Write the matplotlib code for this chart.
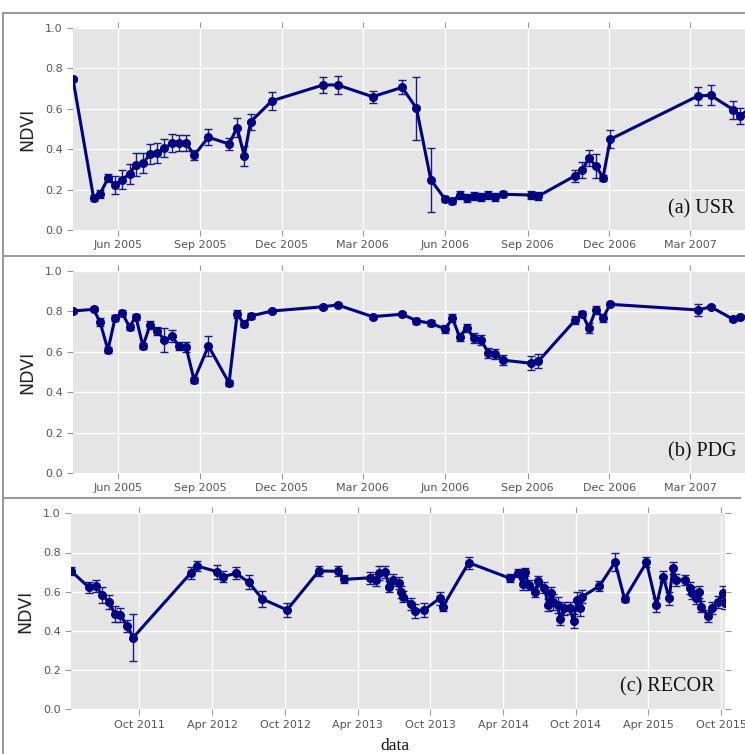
import datetime as dt
import matplotlib
matplotlib.use('Agg')
import matplotlib.pyplot as plt
import matplotlib.dates as mdates
from matplotlib.lines import Line2D

# ---- series (a) USR and (b) PDG share the same acquisition dates ----
dates_ab = ['2005-04-12', '2005-05-05', '2005-05-12', '2005-05-21', '2005-05-29', '2005-06-06',
            '2005-06-14', '2005-06-21', '2005-06-29', '2005-07-07', '2005-07-15', '2005-07-23',
            '2005-07-31', '2005-08-08', '2005-08-16', '2005-08-25', '2005-09-10', '2005-10-03',
            '2005-10-12', '2005-10-20', '2005-10-27', '2005-11-20', '2006-01-16', '2006-02-01',
            '2006-03-12', '2006-04-14', '2006-04-30', '2006-05-16', '2006-06-01', '2006-06-09',
            '2006-06-17', '2006-06-25', '2006-07-03', '2006-07-11', '2006-07-19', '2006-07-27',
            '2006-08-04', '2006-09-05', '2006-09-13', '2006-10-24', '2006-11-01', '2006-11-08',
            '2006-11-16', '2006-11-24', '2006-12-02', '2007-03-10', '2007-03-24', '2007-04-18',
            '2007-04-26', '2007-05-06']

ndvi_usr = [0.746, 0.158, 0.177, 0.256, 0.224, 0.250, 0.278, 0.324, 0.330, 0.376, 0.383, 0.404,
            0.429, 0.432, 0.432, 0.370, 0.459, 0.426, 0.507, 0.366, 0.536, 0.640, 0.718, 0.718,
            0.660, 0.706, 0.602, 0.248, 0.152, 0.144, 0.173, 0.157, 0.168, 0.165, 0.173, 0.165,
            0.177, 0.173, 0.168, 0.269, 0.297, 0.355, 0.318, 0.259, 0.449, 0.664, 0.667, 0.596,
            0.566, 0.600]
err_usr = [0.01, 0.015, 0.02, 0.02, 0.045, 0.045, 0.05, 0.055, 0.05, 0.05, 0.05, 0.045,
           0.045, 0.04, 0.04, 0.025, 0.04, 0.03, 0.045, 0.05, 0.04, 0.045, 0.04, 0.045,
           0.03, 0.035, 0.155, 0.16, 0.015, 0.015, 0.02, 0.02, 0.02, 0.02, 0.02, 0.02,
           0.015, 0.02, 0.02, 0.03, 0.04, 0.04, 0.06, 0.015, 0.045, 0.045, 0.05, 0.045,
           0.04, 0.04]

ndvi_pdg = [0.802, 0.810, 0.749, 0.609, 0.769, 0.790, 0.724, 0.774, 0.629, 0.733, 0.703, 0.658,
            0.678, 0.630, 0.625, 0.460, 0.629, 0.446, 0.786, 0.736, 0.777, 0.802, 0.823, 0.832,
            0.774, 0.786, 0.754, 0.741, 0.713, 0.766, 0.675, 0.719, 0.667, 0.658, 0.596, 0.589,
            0.559, 0.543, 0.554, 0.757, 0.786, 0.719, 0.807, 0.769, 0.835, 0.807, 0.823, 0.761,
            0.774, 0.775]
err_pdg = [0.01, 0.01, 0.02, 0.015, 0.015, 0.015, 0.015, 0.015, 0.015, 0.02, 0.02, 0.06,
           0.03, 0.02, 0.025, 0.015, 0.05, 0.015, 0.02, 0.015, 0.015, 0.01, 0.01, 0.01,
           0.01, 0.01, 0.015, 0.015, 0.02, 0.02, 0.02, 0.02, 0.025, 0.025, 0.025, 0.025,
           0.025, 0.035, 0.035, 0.02, 0.015, 0.025, 0.02, 0.02, 0.01, 0.03, 0.01, 0.01,
           0.01, 0.01]

# ---- series (c) RECOR ----
dates_c = ['2011-04-13', '2011-05-28', '2011-06-14', '2011-06-30', '2011-07-17', '2011-08-01',
           '2011-08-15', '2011-09-01', '2011-09-16', '2012-02-07', '2012-02-24', '2012-04-14',
           '2012-04-29', '2012-05-31', '2012-07-02', '2012-08-05', '2012-10-06', '2012-12-25',
           '2013-02-12', '2013-02-27', '2013-05-03', '2013-05-17', '2013-05-26', '2013-06-09',
           '2013-06-20', '2013-06-28', '2013-07-13', '2013-07-20', '2013-07-24', '2013-08-14',
           '2013-08-24', '2013-09-15', '2013-10-24', '2013-11-01', '2014-01-05', '2014-04-19',
           '2014-05-09', '2014-05-20', '2014-05-26', '2014-06-04', '2014-06-21', '2014-06-29',
           '2014-07-14', '2014-07-23', '2014-07-31', '2014-08-05', '2014-08-16', '2014-08-23',
           '2014-09-02', '2014-09-15', '2014-09-25', '2014-10-04', '2014-10-10', '2014-10-17',
           '2014-11-29', '2015-01-07', '2015-01-31', '2015-03-27', '2015-04-21', '2015-05-08',
           '2015-05-23', '2015-06-01', '2015-06-09', '2015-07-01', '2015-07-14', '2015-07-20',
           '2015-07-28', '2015-08-06', '2015-08-12', '2015-08-28', '2015-09-07', '2015-09-23',
           '2015-10-05', '2015-10-10']
ndvi_recor = [0.706, 0.622, 0.631, 0.583, 0.549, 0.486, 0.481, 0.425, 0.366, 0.694, 0.731, 0.702,
              0.677, 0.694, 0.648, 0.563, 0.507, 0.706, 0.704, 0.663, 0.671, 0.660, 0.694, 0.702,
              0.626, 0.660, 0.643, 0.600, 0.575, 0.536, 0.502, 0.507, 0.566, 0.524, 0.748, 0.668,
              0.694, 0.638, 0.702, 0.634, 0.600, 0.655, 0.621, 0.532, 0.595, 0.549, 0.532, 0.461,
              0.515, 0.515, 0.450, 0.558, 0.515, 0.575, 0.629, 0.750, 0.563, 0.750, 0.532, 0.677,
              0.566, 0.719, 0.660, 0.660, 0.617, 0.592, 0.569, 0.600, 0.524, 0.476, 0.518, 0.549,
              0.592, 0.540]
err_recor = [0.02, 0.03, 0.03, 0.04, 0.035, 0.04, 0.035, 0.03, 0.12, 0.03, 0.025, 0.035,
             0.03, 0.03, 0.035, 0.04, 0.035, 0.025, 0.025, 0.02, 0.03, 0.03, 0.035, 0.03,
             0.03, 0.03, 0.03, 0.03, 0.03, 0.03, 0.035, 0.035, 0.035, 0.025, 0.03, 0.02,
             0.02, 0.03, 0.02, 0.025, 0.025, 0.025, 0.03, 0.03, 0.03, 0.04, 0.04, 0.03,
             0.035, 0.03, 0.035, 0.04, 0.04, 0.035, 0.025, 0.045, 0.015, 0.025, 0.035, 0.03,
             0.035, 0.03, 0.03, 0.025, 0.03, 0.03, 0.03, 0.03, 0.03, 0.03, 0.03, 0.03,
             0.035, 0.03]

labels = ['(a) USR', '(b) PDG', '(c) RECOR']

W, H = 745, 754


def to_dt(lst):
    return [dt.datetime.strptime(s, '%Y-%m-%d') for s in lst]


def px_rect(x0, y0, x1, y1):
    # pixel box (top-left origin) -> figure fraction [left, bottom, width, height]
    return [x0 / W, 1 - y1 / H, (x1 - x0) / W, (y1 - y0) / H]


def style_axes(ax):
    ax.set_facecolor('#E5E5E5')
    for sp in ax.spines.values():
        sp.set_visible(False)
    ax.grid(True, color='white', linewidth=0.9)
    ax.set_axisbelow(True)
    ax.set_ylim(0, 1.0)
    ax.set_yticks([0.0, 0.2, 0.4, 0.6, 0.8, 1.0])
    ax.yaxis.set_major_formatter(plt.FormatStrFormatter('%.1f'))
    ax.tick_params(direction='out', length=4, width=0.8, color='#999999',
                   labelcolor='#555555', labelsize=8, top=True, right=True)
    ax.set_ylabel('NDVI', fontsize=12.5, color='#222222', labelpad=6)


def draw(ax, dates, vals, errs):
    ax.errorbar(to_dt(dates), vals, yerr=errs, fmt='-o', color='navy', ecolor='#1a1a80',
                lw=2.2, ms=5.5, elinewidth=1, capsize=3, capthick=1, clip_on=True)


fig = plt.figure(figsize=(W / 100, H / 100), dpi=100)

ax_a = fig.add_axes(px_rect(73, 28, 760, 230))
ax_b = fig.add_axes(px_rect(73, 271, 760, 473))
ax_c = fig.add_axes(px_rect(71, 513.3, 725, 709.3))

xlim_ab = (dt.datetime(2005, 4, 12), dt.datetime(2007, 5, 18))
for ax, vals, errs in [(ax_a, ndvi_usr, err_usr), (ax_b, ndvi_pdg, err_pdg)]:
    style_axes(ax)
    draw(ax, dates_ab, vals, errs)
    ax.set_xlim(*xlim_ab)
    ax.xaxis.set_major_locator(mdates.MonthLocator(bymonth=(3, 6, 9, 12)))
    ax.xaxis.set_major_formatter(mdates.DateFormatter('%b %Y'))

style_axes(ax_c)
draw(ax_c, dates_c, ndvi_recor, err_recor)
ax_c.set_xlim(to_dt(dates_c)[0], to_dt(dates_c)[-1])
ax_c.xaxis.set_major_locator(mdates.MonthLocator(bymonth=(4, 10)))
ax_c.xaxis.set_major_formatter(mdates.DateFormatter('%b %Y'))

# panel captions
serif = ['Liberation Serif', 'DejaVu Serif']
for (xr, yc), txt in zip([(735, 209), (737, 452), (715, 687)], labels):
    fig.text(xr / W, 1 - yc / H, txt, ha='right', va='center', fontsize=14.5,
             family=serif, color='#111111')
fig.text(395 / W, 1 - 746 / H, 'data', ha='center', va='center', fontsize=12.5,
         family=serif, color='#111111')

# frame lines around the stacked panels
frame = dict(color='#9a9a9a', linewidth=1.5, transform=fig.transFigure)
for y in (13, 256, 498):
    x_end = 740 if y == 498 else W
    fig.add_artist(Line2D([3 / W, x_end / W], [1 - y / H, 1 - y / H], **frame))
fig.add_artist(Line2D([3 / W, 3 / W], [1 - 13 / H, 0], **frame))

fig.savefig('out.png', dpi=100)
